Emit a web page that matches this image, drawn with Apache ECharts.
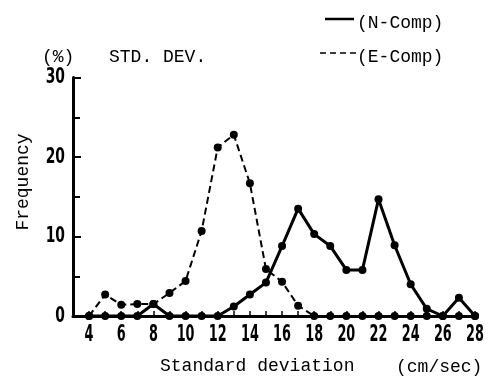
<!DOCTYPE html>
<html>
<head>
<meta charset="utf-8">
<script src="https://cdn.jsdelivr.net/npm/echarts@6/dist/echarts.min.js"></script>
<style>
  html, body { margin: 0; padding: 0; background: #fff; }
  #chart { width: 496px; height: 389px; }
</style>
</head>
<body>
<div id="chart"></div>
<script>
// Standard deviation classes (cm/sec)
const stdDev = [4, 5, 6, 7, 8, 9, 10, 11, 12, 13, 14, 15, 16, 17, 18, 19, 20, 21, 22, 23, 24, 25, 26, 27, 28];
// Frequency (%) for each component
const nComp = [0, 0, 0, 0, 1.5, 0, 0, 0, 0, 1.2, 2.7, 4.2, 8.8, 13.5, 10.3, 8.8, 5.8, 5.8, 14.7, 8.9, 4.0, 0.9, 0, 2.3, 0];
const eComp = [0, 2.7, 1.4, 1.5, 1.5, 2.9, 4.4, 10.7, 21.2, 22.8, 16.7, 5.9, 4.3, 1.3, 0, 0, 0, 0, 0, 0, 0, 0, 0, 0, 0];
const xTickLabels = [4, 6, 8, 10, 12, 14, 16, 18, 20, 22, 24, 26, 28];
const yTickLabels = [0, 10, 20, 30];

const pairs = (xs, ys) => xs.map((x, i) => [x, ys[i]]);

const tickFont = {
  fontFamily: "'DejaVu Sans Condensed', sans-serif",
  fontWeight: 'bold', fill: '#000', verticalAlign: 'middle'
};
const textFont = { fontFamily: 'Liberation Mono', fontSize: 18, fill: '#000', verticalAlign: 'middle' };
const label = (text, x, y, extra, styleExtra) => Object.assign({
  type: 'text', x: x, y: y,
  style: Object.assign({ text: text }, textFont, styleExtra || {})
}, extra || {});

const chart = echarts.init(document.getElementById('chart'));
chart.setOption({
  animation: false,
  backgroundColor: '#fff',
  grid: { left: 73, right: 21, top: 77.5, bottom: 73 },
  xAxis: {
    type: 'value', min: 3, max: 28, interval: 1,
    axisLine: { lineStyle: { color: '#000', width: 3 } },
    axisTick: { inside: true, length: 5, lineStyle: { color: '#000', width: 1.5 } },
    splitLine: { show: false },
    axisLabel: { show: false }
  },
  yAxis: {
    type: 'value', min: 0, max: 30, interval: 10,
    axisLine: { show: true, lineStyle: { color: '#000', width: 3 } },
    axisTick: { inside: true, length: 8, lineStyle: { color: '#000', width: 2 } },
    minorTick: { show: true, splitNumber: 2, length: 7, lineStyle: { color: '#000', width: 2 } },
    splitLine: { show: false },
    axisLabel: { show: false }
  },
  series: [
    {
      name: '(N-Comp)', type: 'line', data: pairs(stdDev, nComp),
      symbol: 'circle', symbolSize: 8,
      lineStyle: { color: '#000', width: 3 },
      itemStyle: { color: '#000' },
      z: 3
    },
    {
      name: '(E-Comp)', type: 'line', data: pairs(stdDev, eComp),
      symbol: 'circle', symbolSize: 8,
      lineStyle: { color: '#000', width: 2, type: [7, 4] },
      itemStyle: { color: '#000' },
      z: 2
    }
  ]
});

// Tall, narrow tick numerals: placed at the axis positions and squeezed horizontally
const xBase = chart.convertToPixel({ yAxisIndex: 0 }, 0);
const yLeft = chart.convertToPixel({ xAxisIndex: 0 }, 3);
const tickTexts = [];
xTickLabels.forEach(v => {
  tickTexts.push({
    type: 'text', x: chart.convertToPixel({ xAxisIndex: 0 }, v), y: xBase + 19, scaleX: 0.62,
    style: Object.assign({ text: String(v), fontSize: 23, align: 'center' }, tickFont)
  });
});
yTickLabels.forEach(v => {
  tickTexts.push({
    type: 'text', x: yLeft - 8, y: chart.convertToPixel({ yAxisIndex: 0 }, v), scaleX: 0.7,
    style: Object.assign({ text: String(v), fontSize: 22, align: 'right' }, tickFont)
  });
});

chart.setOption({
  graphic: tickTexts.concat([
    { type: 'line', shape: { x1: 325, y1: 19, x2: 354, y2: 19 }, style: { stroke: '#000', lineWidth: 2.5 } },
    label('(N-Comp)', 357, 23),
    { type: 'line', shape: { x1: 320, y1: 53, x2: 357, y2: 53 }, style: { stroke: '#000', lineWidth: 1.5, lineDash: [6, 4] } },
    label('(E-Comp)', 357, 57),
    label('(%)', 42, 57),
    label('STD. DEV.', 109, 57),
    label('Standard deviation', 160, 366),
    label('(cm/sec)', 396, 367),
    label('Frequency', 23, 182, { rotation: Math.PI / 2 }, { align: 'center' })
  ])
});
</script>
</body>
</html>
